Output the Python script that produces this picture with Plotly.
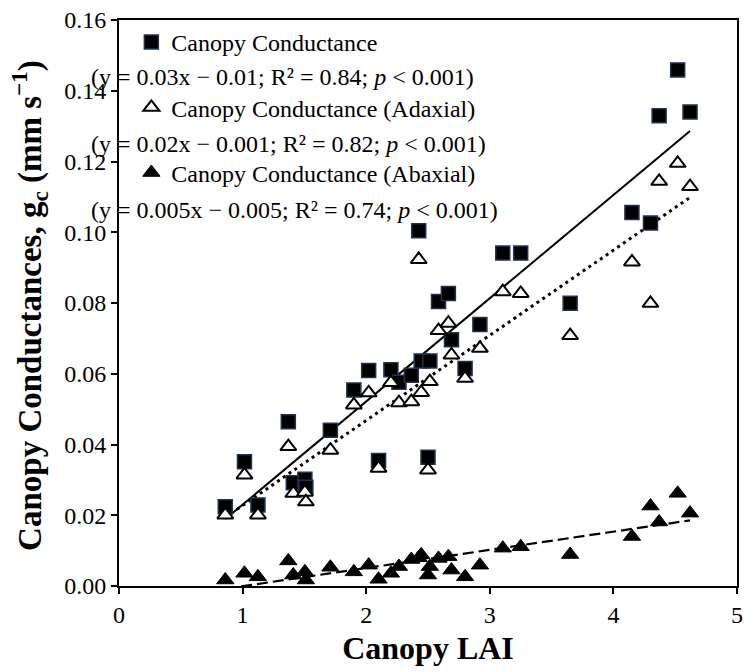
import numpy as np
import plotly.graph_objects as go

# ---- data ----
lai = [0.86, 1.015, 1.124, 1.37, 1.41, 1.504, 1.512, 1.71, 1.90, 2.02, 2.10,
       2.20, 2.265, 2.365, 2.425, 2.445, 2.515, 2.50, 2.585, 2.665, 2.69, 2.80,
       2.92, 3.105, 3.25, 3.65, 4.15, 4.30, 4.37, 4.52, 4.62]

gc_total = [0.0224, 0.0351, 0.0229, 0.0464, 0.0292, 0.0302, 0.0279, 0.0440,
            0.0554, 0.0609, 0.0355, 0.0611, 0.0576, 0.0596, 0.1004, 0.0636,
            0.0636, 0.0364, 0.0804, 0.0827, 0.0696, 0.0615, 0.0739, 0.0941,
            0.0941, 0.0799, 0.1056, 0.1026, 0.1329, 0.1459, 0.1340]

gc_adaxial = [0.0201, 0.0314, 0.0201, 0.0394, 0.0262, 0.0265, 0.0238, 0.0384,
              0.0512, 0.0546, 0.0333, 0.0575, 0.0518, 0.0521, 0.0923, 0.0547,
              0.0578, 0.0328, 0.0722, 0.0743, 0.0653, 0.0587, 0.0672, 0.0832,
              0.0827, 0.0708, 0.0916, 0.0799, 0.1144, 0.1195, 0.1129]

gc_abaxial = [0.0017, 0.0036, 0.0026, 0.0071, 0.0031, 0.0040, 0.0017, 0.0053,
              0.0040, 0.0059, 0.0019, 0.0036, 0.0055, 0.0075, 0.0080, 0.0088,
              0.0055, 0.0031, 0.0078, 0.0083, 0.0045, 0.0026, 0.0059, 0.0107,
              0.0111, 0.0089, 0.0140, 0.0226, 0.0181, 0.0262, 0.0206]

series_names = ["Canopy Conductance",
                "Canopy Conductance (Adaxial)",
                "Canopy Conductance (Abaxial)"]

equations = ["(y = 0.03x \u2212 0.01; R\u00b2 = 0.84; <i>p</i> < 0.001)",
             "(y = 0.02x \u2212 0.001; R\u00b2 = 0.82; <i>p</i> < 0.001)",
             "(y = 0.005x \u2212 0.005; R\u00b2 = 0.74; <i>p</i> < 0.001)"]

x_ticks = [0, 1, 2, 3, 4, 5]
y_ticks = [0.00, 0.02, 0.04, 0.06, 0.08, 0.10, 0.12, 0.14, 0.16]

FONT = "Liberation Serif, Times New Roman, serif"

fig = go.Figure()

x_arr = np.array(lai)
xfit = np.array([x_arr.min(), x_arr.max()])

def fit_line(y):
    k, b = np.polyfit(x_arr, np.array(y), 1)
    return k * xfit + b

# trend lines
fig.add_trace(go.Scatter(x=xfit, y=fit_line(gc_total), mode="lines",
                         line=dict(color="black", width=2), showlegend=False,
                         hoverinfo="skip"))
fig.add_trace(go.Scatter(x=xfit, y=fit_line(gc_adaxial), mode="lines",
                         line=dict(color="black", width=3, dash="3px,4px"),
                         showlegend=False, hoverinfo="skip"))
fig.add_trace(go.Scatter(x=xfit, y=fit_line(gc_abaxial), mode="lines",
                         line=dict(color="black", width=2.2, dash="11px,5px"),
                         showlegend=False, hoverinfo="skip"))

# markers
fig.add_trace(go.Scatter(x=lai, y=gc_total, mode="markers", name=series_names[0],
                         legendgroup="g1",
                         marker=dict(symbol="square", size=14, color="black",
                                     line=dict(color="#1f3350", width=1.5))))
fig.add_trace(go.Scatter(x=lai, y=gc_adaxial, mode="markers", name=series_names[1],
                         legendgroup="g2",
                         marker=dict(symbol="triangle-up", size=14, color="white",
                                     line=dict(color="black", width=2))))
fig.add_trace(go.Scatter(x=lai, y=gc_abaxial, mode="markers", name=series_names[2],
                         legendgroup="g3",
                         marker=dict(symbol="triangle-up", size=15, color="black",
                                     line=dict(color="black", width=1))))

# equation annotations (paper coords computed from plot area 119..743 x 20..586)
eq_y_px = [77, 144, 210]
for txt, py in zip(equations, eq_y_px):
    fig.add_annotation(text=txt, xref="paper", yref="paper",
                       x=(89 - 119) / 624, y=(586 - py) / 566,
                       xanchor="left", yanchor="middle", showarrow=False,
                       font=dict(family=FONT, size=24, color="black"))

# y axis title as rotated annotation
fig.add_annotation(text="<b>Canopy Conductances, g<sub>c</sub> (mm s<sup>\u22121</sup>)</b>",
                   xref="paper", yref="paper", x=(28 - 119) / 624,
                   y=(586 - 305) / 566,
                   xanchor="center", yanchor="middle", textangle=-90,
                   showarrow=False, font=dict(family=FONT, size=33, color="black"))

fig.update_layout(
    width=748, height=672,
    margin=dict(l=119, r=5, t=20, b=86),
    paper_bgcolor="white", plot_bgcolor="white",
    font=dict(family=FONT, size=24, color="black"),
    legend=dict(x=0.02, y=1.0, xanchor="left", yanchor="top",
                bgcolor="rgba(0,0,0,0)", font=dict(family=FONT, size=24),
                tracegroupgap=31, itemwidth=30),
    xaxis=dict(range=[0, 5], tickvals=x_ticks, ticktext=[str(v) for v in x_ticks],
               showgrid=False, zeroline=False, showline=True, linecolor="black",
               linewidth=2, mirror=True, ticks="outside", ticklen=6, tickwidth=1.5,
               tickcolor="black", tickfont=dict(family=FONT, size=24),
               title=dict(text="<b>Canopy LAI</b>", font=dict(family=FONT, size=32),
                          standoff=10)),
    yaxis=dict(range=[0, 0.16], tickvals=y_ticks,
               ticktext=["%.2f" % v for v in y_ticks],
               showgrid=False, zeroline=False, showline=True, linecolor="black",
               linewidth=2, mirror=True, ticks="outside", ticklen=6, tickwidth=1.5,
               tickcolor="black", tickfont=dict(family=FONT, size=24)),
)

fig.write_html("out.html")
